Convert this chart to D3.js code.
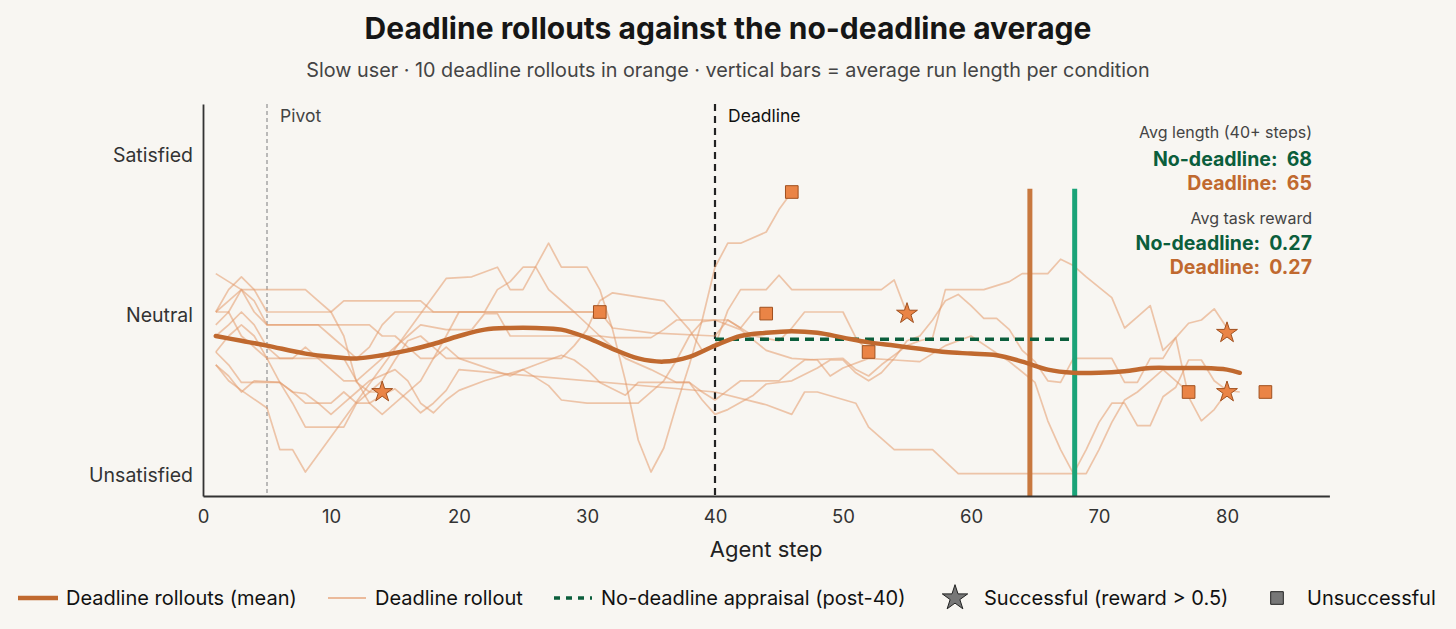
<!DOCTYPE html>
<html>
<head>
<meta charset="utf-8">
<script src="https://cdn.jsdelivr.net/npm/d3@7"></script>
<style>
  body { margin: 0; background: #f8f6f2; }
  text { font-family: Inter, "Noto Sans", sans-serif; white-space: pre; }
</style>
</head>
<body>
<script>
var w = 1456;
var h = 629;

// appraisal scale: Unsatisfied = -1, Neutral = 0, Satisfied = 1
var yLevels = [-1, 0, 1];
var yLabels = ["Unsatisfied", "Neutral", "Satisfied"];
var xTicks = [0, 10, 20, 30, 40, 50, 60, 70, 80];

var pivotStep = 5;
var deadlineStep = 40;

// ten deadline rollouts, [step, appraisal]
var rollout1 = [[1,.26],[2,.21],[3,.16],[8,.16],[9,.09],[10,.02],[11,-.13],[12,-.42],[13,-.48],[14,-.48]];
var rollout2 = [[1,.02],[2,.02],[3,.16],[4,.02],[5,-.06],[9,-.06],[10,-.13],[11,-.2],[12,-.27],[13,-.2],[14,-.06],[15,.02],[31,.02]];
var rollout3 = [[1,.02],[2,.16],[3,.24],[4,.16],[5,.02],[10,.02],[11,.09],[17,.09],[18,.02],[31,.02],[32,-.08],[35,-.11],[40,-.13],[41,-.03],[42,-.08],[43,.02],[44,.02]];
var rollout4 = [[1,-.31],[2,-.41],[3,-.47],[5,-.58],[6,-.84],[7,-.84],[8,-.98],[19,.23],[21,.24],[23,.30],[24,.16],[25,.16],[27,.45],[28,.30],[30,.30],[31,.16],[32,-.09],[33,-.41],[34,-.78],[35,-.98],[36,-.83],[37,-.56],[38,-.31],[39,-.03],[40,.30],[41,.45],[42,.45],[44,.52],[45,.66],[46,.77]];
var rollout5 = [[1,-.13],[2,-.06],[3,.02],[4,-.06],[5,-.2],[6,-.27],[7,-.27],[8,-.2],[9,-.27],[10,-.34],[11,-.41],[12,-.41],[13,-.34],[14,-.27],[15,-.2],[16,-.13],[17,-.06],[19,-.09],[21,-.09],[22,.01],[23,.01],[24,-.13],[31,-.13],[32,-.14],[35,-.14],[36,-.09],[37,-.03],[41,-.03],[43,-.13],[45,-.16],[46,-.08],[47,.02],[50,.02],[51,-.14],[52,-.23]];
var rollout6 = [[1,.02],[2,.09],[3,.16],[4,.09],[5,-.06],[13,-.06],[14,-.13],[15,-.13],[16,-.2],[17,-.27],[18,-.27],[19,-.2],[20,-.27],[28,-.27],[29,-.19],[30,-.09],[31,.09],[32,.14],[36,.09],[37,0],[38,-.09],[39,-.22],[40,-.19],[41,.03],[42,.16],[44,.16],[45,.25],[46,.16],[53,.16],[54,.22],[55,.01]];
var rollout7 = [[1,-.23],[2,-.31],[3,-.42],[6,-.42],[7,-.48],[8,-.49],[9,-.55],[10,-.55],[11,-.48],[12,-.55],[13,-.55],[14,-.5],[15,-.46],[16,-.53],[17,-.61],[18,-.55],[19,-.47],[20,-.34],[40,-.48],[44,-.56],[46,-.62],[47,-.48],[48,-.48],[51,-.55],[52,-.7],[54,-.84],[57,-.84],[59,-.99],[69,-.99],[70,-.84],[71,-.67],[72,-.53],[73,-.48],[74,-.41],[75,-.34],[76,-.41],[77,-.48]];
var rollout8 = [[1,-.23],[2,-.13],[3,-.06],[4,-.13],[5,-.27],[11,-.27],[12,-.41],[13,-.55],[14,-.62],[15,-.55],[17,-.41],[19,-.13],[20,.02],[22,.02],[23,.16],[24,.21],[25,.30],[26,.30],[27,.16],[29,.02],[31,-.13],[33,-.27],[35,-.34],[37,-.42],[38,-.42],[39,-.48],[40,-.53],[41,-.47],[42,-.41],[45,-.41],[46,-.34],[47,-.28],[50,-.27],[51,-.34],[52,-.38],[53,-.31],[55,-.19],[56,-.16],[57,-.14],[58,.16],[61,.16],[63,.21],[64,.26],[66,.26],[67,.35],[68,.31],[69,.24],[71,.11],[72,-.08],[73,-.01],[74,.06],[75,-.22],[76,-.14],[77,-.05],[78,-.03],[79,.04],[80,-.08]];
var rollout9 = [[1,-.06],[2,.02],[3,-.13],[4,-.2],[5,-.27],[6,-.42],[7,-.55],[8,-.7],[11,-.7],[12,-.55],[13,-.48],[14,-.41],[15,-.28],[16,-.16],[17,-.13],[18,-.2],[19,-.27],[20,-.27],[24,-.38],[25,-.34],[26,-.31],[27,-.28],[28,-.25],[29,-.28],[30,-.34],[31,-.42],[33,-.5],[34,-.42],[38,-.42],[39,-.53],[40,-.62],[41,-.59],[43,-.5],[44,-.43],[46,-.41],[48,-.33],[49,-.28],[50,-.28],[51,-.36],[52,-.41],[53,-.36],[54,-.27],[55,-.16],[56,-.13],[57,-.03],[58,.09],[59,.13],[60,.06],[61,-.02],[62,-.02],[63,-.09],[64,-.22],[65,-.29],[66,-.41],[67,-.42],[68,-.27],[71,-.27],[72,-.42],[73,-.42],[74,-.27],[75,-.27],[76,-.14],[77,-.51],[78,-.66],[79,-.59],[80,-.48]];
var rollout10 = [[1,-.31],[2,-.38],[3,-.48],[4,-.41],[6,-.42],[7,-.48],[8,-.55],[9,-.55],[10,-.62],[11,-.55],[12,-.48],[13,-.41],[15,-.34],[16,-.41],[17,-.55],[18,-.61],[19,-.53],[20,-.47],[22,-.41],[25,-.34],[27,-.44],[28,-.53],[30,-.55],[34,-.55],[36,-.41],[37,-.28],[38,-.13],[39,-.04],[40,-.03],[42,-.09],[44,-.22],[46,-.27],[48,-.28],[49,-.38],[50,-.33],[52,-.27],[54,-.28],[56,-.29],[58,-.19],[60,-.13],[63,-.29],[65,-.42],[66,-.66],[67,-.84],[68,-.99],[69,-.84],[70,-.67],[71,-.55],[72,-.55],[73,-.69],[74,-.69],[75,-.51],[76,-.45],[77,-.28],[78,-.28],[79,-.41],[80,-.47],[81,-.48]];
var rollouts = [rollout1, rollout2, rollout3, rollout4, rollout5, rollout6, rollout7, rollout8, rollout9, rollout10];

// smoothed mean of the deadline rollouts
var meanSteps = [1,3,5,8,10,12,14,16,18,20,22,24,26,28,30,32,34,36,38,40,42,44,46,48,50,52,54,56,58,60,62,64,66,68,70,72,74,76,78,80,81];
var meanValues = [-.13,-.16,-.19,-.24,-.26,-.27,-.25,-.22,-.18,-.13,-.09,-.08,-.08,-.09,-.14,-.21,-.27,-.29,-.26,-.19,-.13,-.11,-.10,-.11,-.14,-.17,-.19,-.21,-.23,-.24,-.25,-.29,-.34,-.36,-.36,-.35,-.33,-.33,-.33,-.34,-.36];

// end-of-rollout markers [length, final appraisal]
var successEnds = [[14,-.48],[55,.01],[80,-.11],[80,-.48]];
var failEnds = [[31,.02],[44,.01],[46,.77],[52,-.23],[77,-.48],[83,-.48]];

var noDeadlineAppraisal = -0.15;
var avgLenNoDeadline = 68.1;
var avgLenDeadline = 64.6;
var barTop = 0.79;

var summaryLength = { noDeadline: "68", deadline: "65" };
var summaryReward = { noDeadline: "0.27", deadline: "0.27" };

var orange = "#c0692f";
var lightOrange = "#e39a6c";
var markerOrange = "#ea8446";
var darkGreen = "#0b5e3c";
var brightGreen = "#1aa378";

var svg = d3.select("body")
    .append("svg")
    .attr("width", w)
    .attr("height", h);

svg.append("rect").attr("width", w).attr("height", h).attr("fill", "#f8f6f2");

var x = d3.scaleLinear().domain([0, 88]).range([203, 1329.4]);
var y = d3.scaleLinear().domain([-1.13, 1.32]).range([496, 104]);

// titles
svg.append("text")
    .attr("x", 728).attr("y", 39)
    .attr("text-anchor", "middle")
    .attr("font-size", 30).attr("font-weight", 700)
    .attr("fill", "#161616")
    .text("Deadline rollouts against the no-deadline average");

svg.append("text")
    .attr("x", 728).attr("y", 77)
    .attr("text-anchor", "middle")
    .attr("font-size", 19.8)
    .attr("fill", "#444")
    .text("Slow user \u00b7 10 deadline rollouts in orange \u00b7 vertical bars = average run length per condition");

// pivot and deadline guides
svg.append("line")
    .attr("x1", x(pivotStep)).attr("x2", x(pivotStep))
    .attr("y1", y.range()[1]).attr("y2", y.range()[0])
    .attr("stroke", "#999").attr("stroke-width", 1.3)
    .attr("stroke-dasharray", "4,3");
svg.append("text")
    .attr("x", x(pivotStep) + 13).attr("y", 122)
    .attr("font-size", 17.5).attr("fill", "#444")
    .text("Pivot");

svg.append("line")
    .attr("x1", x(deadlineStep)).attr("x2", x(deadlineStep))
    .attr("y1", y.range()[1]).attr("y2", y.range()[0])
    .attr("stroke", "#222").attr("stroke-width", 2.2)
    .attr("stroke-dasharray", "7,5");
svg.append("text")
    .attr("x", x(deadlineStep) + 13).attr("y", 122)
    .attr("font-size", 17.5).attr("fill", "#111")
    .text("Deadline");

// rollouts
var line = d3.line()
    .x(function (d) { return x(d[0]); })
    .y(function (d) { return y(d[1]); });

svg.selectAll("path.rollout")
    .data(rollouts)
    .enter()
    .append("path")
    .attr("class", "rollout")
    .attr("d", line)
    .attr("fill", "none")
    .attr("stroke", lightOrange)
    .attr("stroke-opacity", 0.55)
    .attr("stroke-width", 1.7)
    .attr("stroke-linejoin", "round");

// average length bars
svg.append("line")
    .attr("x1", x(avgLenDeadline)).attr("x2", x(avgLenDeadline))
    .attr("y1", y(barTop)).attr("y2", y.range()[0])
    .attr("stroke", "#c8783f").attr("stroke-width", 5);
svg.append("line")
    .attr("x1", x(avgLenNoDeadline)).attr("x2", x(avgLenNoDeadline))
    .attr("y1", y(barTop)).attr("y2", y.range()[0])
    .attr("stroke", brightGreen).attr("stroke-width", 5);

// no-deadline appraisal after the deadline
svg.append("line")
    .attr("x1", x(deadlineStep)).attr("x2", x(avgLenNoDeadline))
    .attr("y1", y(noDeadlineAppraisal)).attr("y2", y(noDeadlineAppraisal))
    .attr("stroke", darkGreen).attr("stroke-width", 3.5)
    .attr("stroke-dasharray", "9,6");

// mean line
var meanData = meanSteps.map(function (s, i) { return [s, meanValues[i]]; });
svg.append("path")
    .attr("d", d3.line()
        .x(function (d) { return x(d[0]); })
        .y(function (d) { return y(d[1]); })
        .curve(d3.curveCatmullRom)(meanData))
    .attr("fill", "none")
    .attr("stroke", orange)
    .attr("stroke-width", 4.5)
    .attr("stroke-linecap", "round");

// end markers
var star = d3.symbol().type(d3.symbolStar).size(135);
var square = d3.symbol().type(d3.symbolSquare).size(160);

svg.selectAll("path.fail")
    .data(failEnds)
    .enter()
    .append("path")
    .attr("class", "fail")
    .attr("d", square)
    .attr("transform", function (d) { return "translate(" + x(d[0]) + "," + y(d[1]) + ")"; })
    .attr("fill", markerOrange)
    .attr("stroke", "#a0501f").attr("stroke-width", 1);

svg.selectAll("path.success")
    .data(successEnds)
    .enter()
    .append("path")
    .attr("class", "success")
    .attr("d", star)
    .attr("transform", function (d) { return "translate(" + x(d[0]) + "," + y(d[1]) + ")"; })
    .attr("fill", markerOrange)
    .attr("stroke", "#a0501f").attr("stroke-width", 1);

// axes
var yAxis = svg.append("g")
    .attr("transform", "translate(203,0)")
    .call(d3.axisLeft(y).tickValues(yLevels).tickSize(0).tickPadding(10)
        .tickFormat(function (d, i) { return yLabels[i]; }));
var xAxis = svg.append("g")
    .attr("transform", "translate(0,496)")
    .call(d3.axisBottom(x).tickValues(xTicks).tickSize(0).tickPadding(14));

[xAxis, yAxis].forEach(function (g) {
    g.select(".domain").attr("stroke", "#333").attr("stroke-width", 1.8);
    g.selectAll("text")
        .attr("font-family", "Inter, sans-serif")
        .attr("fill", "#333");
});
yAxis.selectAll("text").attr("font-size", 19.5);
xAxis.selectAll("text").attr("font-size", 18.5);

svg.append("text")
    .attr("x", x(44)).attr("y", 557)
    .attr("text-anchor", "middle")
    .attr("font-size", 22).attr("fill", "#222")
    .text("Agent step");

// summary block
var rx = 1312;
var notes = [
    { t: "Avg length (40+ steps)", y: 138, size: 16, weight: 400, color: "#444" },
    { t: "No-deadline:  " + summaryLength.noDeadline, y: 166, size: 19.5, weight: 700, color: darkGreen },
    { t: "Deadline:  " + summaryLength.deadline, y: 190, size: 19.5, weight: 700, color: orange },
    { t: "Avg task reward", y: 224, size: 16, weight: 400, color: "#444" },
    { t: "No-deadline:  " + summaryReward.noDeadline, y: 250, size: 19.5, weight: 700, color: darkGreen },
    { t: "Deadline:  " + summaryReward.deadline, y: 274, size: 19.5, weight: 700, color: orange }
];
svg.selectAll("text.note")
    .data(notes)
    .enter()
    .append("text")
    .attr("class", "note")
    .attr("x", rx)
    .attr("y", function (d) { return d.y; })
    .attr("text-anchor", "end")
    .attr("font-size", function (d) { return d.size; })
    .attr("font-weight", function (d) { return d.weight; })
    .attr("fill", function (d) { return d.color; })
    .text(function (d) { return d.t; });

// legend
var ly = 598;
var legend = svg.append("g");
legend.append("line").attr("x1", 18).attr("x2", 58).attr("y1", ly).attr("y2", ly)
    .attr("stroke", orange).attr("stroke-width", 4.5);
legend.append("text").attr("x", 66).attr("y", ly + 7).text("Deadline rollouts (mean)");

legend.append("line").attr("x1", 328).attr("x2", 366).attr("y1", ly).attr("y2", ly)
    .attr("stroke", lightOrange).attr("stroke-opacity", 0.65).attr("stroke-width", 2);
legend.append("text").attr("x", 375).attr("y", ly + 7).text("Deadline rollout");

legend.append("line").attr("x1", 554).attr("x2", 592).attr("y1", ly).attr("y2", ly)
    .attr("stroke", darkGreen).attr("stroke-width", 3.5).attr("stroke-dasharray", "6,6");
legend.append("text").attr("x", 601).attr("y", ly + 7).text("No-deadline appraisal (post-40)");

legend.append("path").attr("d", d3.symbol().type(d3.symbolStar).size(200))
    .attr("transform", "translate(955," + ly + ")")
    .attr("fill", "#777").attr("stroke", "#222").attr("stroke-width", 1);
legend.append("text").attr("x", 984).attr("y", ly + 7).text("Successful (reward > 0.5)");

legend.append("path").attr("d", d3.symbol().type(d3.symbolSquare).size(160))
    .attr("transform", "translate(1277," + ly + ")")
    .attr("fill", "#777").attr("stroke", "#222").attr("stroke-width", 1);
legend.append("text").attr("x", 1307).attr("y", ly + 7).text("Unsuccessful");

legend.selectAll("text").attr("font-size", 20).attr("fill", "#111");
</script>
</body>
</html>
